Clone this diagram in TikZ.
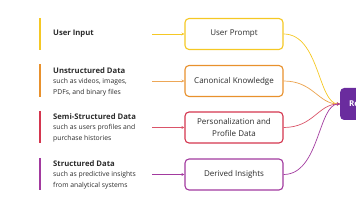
\documentclass[tikz,border=0pt]{standalone}
\usepackage{fontspec}
\setmainfont{Open Sans}
\usetikzlibrary{arrows.meta}
\definecolor{cy}{HTML}{F5C824}
\definecolor{co}{HTML}{E8912D}
\definecolor{cr}{HTML}{D4364F}
\definecolor{cp}{HTML}{A23A9F}
\definecolor{cv}{HTML}{6A2C9E}
\definecolor{tx}{HTML}{2B2B2B}
\begin{document}
\begin{tikzpicture}[x=1pt,y=-1pt,
  box/.style={draw=#1, line width=1.1pt, rounded corners=4pt, minimum width=98pt,
    minimum height=31pt, align=center, text=tx, fill=white, inner sep=2pt,
    font=\fontsize{8}{11.5}\selectfont},
  srcblock/.style={anchor=west, align=left, text=tx, inner sep=0pt,
    font=\fontsize{6.8}{10.6}\selectfont},
  bar/.style={draw=#1, line width=2pt},
  feed/.style={draw=#1, line width=0.8pt, -{Stealth[length=3pt,width=3pt]}},
  merge/.style={draw=#1, line width=0.7pt, -{Stealth[length=3pt,width=3pt]}},
  outbox/.style={fill=cv, rounded corners=4pt, minimum height=32pt, text width=40pt,
    align=left, inner xsep=9pt, text=white, font=\fontsize{8}{9}\selectfont\bfseries}
]
\useasboundingbox (0,0) rectangle (356,200);

% output box (cut by the page edge)
\node[outbox, anchor=west] (out) at (340,104) {Re};

% source texts
\node[srcblock] (s1) at (53,34) {{\fontsize{7.7}{10.6}\selectfont\bfseries User Input}};
\node[srcblock] (s2) at (53,81.5) {{\fontsize{7.7}{10.6}\selectfont\bfseries Unstructured Data}\\such as videos, images,\\PDFs, and binary files};
\node[srcblock] (s3) at (53,127.5) {{\fontsize{7.7}{10.6}\selectfont\bfseries Semi-Structured Data}\\such as users profiles and\\purchase histories};
\node[srcblock] (s4) at (53,174.5) {{\fontsize{7.7}{10.6}\selectfont\bfseries Structured Data}\\such as predictive insights\\from analytical systems};

% side bars
\draw[bar=cy] (39.5,18) -- (39.5,50);
\draw[bar=co] (39.5,64.5) -- (39.5,97);
\draw[bar=cr] (39.5,111) -- (39.5,143.5);
\draw[bar=cp] (39.5,158) -- (39.5,190.5);

% boxes
\node[box=cy] (b1) at (234,34) {User Prompt};
\node[box=co] (b2) at (234,81) {Canonical Knowledge};
\node[box=cr] (b3) at (234,127.5) {Personalization and\\Profile Data};
\node[box=cp] (b4) at (234,174.5) {Derived Insights};

% feed arrows
\coordinate (f1) at (152,34);
\coordinate (f2) at (152,81);
\coordinate (f3) at (152,127.5);
\coordinate (f4) at (152,174.5);
\draw[feed=cy] (f1) -- (b1.west);
\draw[feed=co!80!white] (f2) -- (b2.west);
\draw[feed=cr!85!white] (f3) -- (b3.west);
\draw[feed=cp] (f4) -- (b4.west);

% merging curves
\draw[merge=cy] (b1.east) .. controls +(36,0) and +(-22,0) .. (out.west);
\draw[merge=co!85!white] (b2.east) .. controls +(30,0) and +(-22,0) .. (out.west);
\draw[merge=cr!85!white] (b3.east) .. controls +(30,0) and +(-22,0) .. (out.west);
\draw[merge=cp] (b4.east) .. controls +(36,0) and +(-22,0) .. (out.west);
\end{tikzpicture}
\end{document}
